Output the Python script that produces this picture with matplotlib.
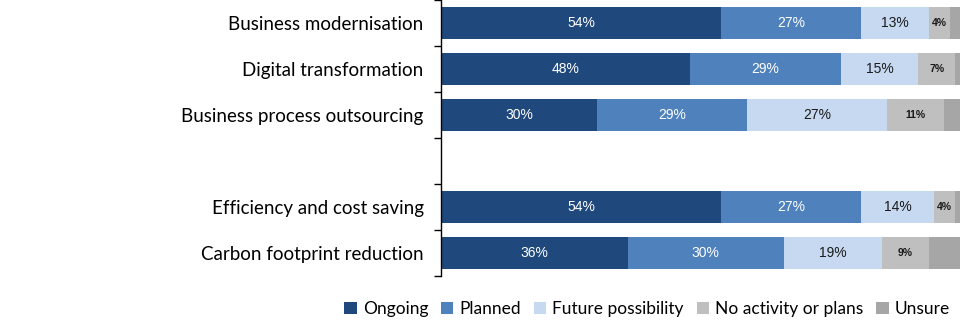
import numpy as np
import matplotlib
matplotlib.use("Agg")
import matplotlib.pyplot as plt

categories = ["Business modernisation", "Digital transformation", "Business process outsourcing",
              "", "Efficiency and cost saving", "Carbon footprint reduction"]
series = ["Ongoing", "Planned", "Future possibility", "No activity or plans", "Unsure"]
ongoing = [54, 48, 30, 0, 54, 36]
planned = [27, 29, 29, 0, 27, 30]
future = [13, 15, 27, 0, 14, 19]
no_activity = [4, 7, 11, 0, 4, 9]
unsure = [2, 1, 3, 0, 1, 6]

colors = ["#1f497d", "#4f81bd", "#c6d9f1", "#bfbfbf", "#a6a6a6"]
label_style = [("white", 10, "normal"), ("white", 10, "normal"), ("#1a1a1a", 10, "normal"),
               ("#1a1a1a", 7.5, "bold"), None]

fig = plt.figure(figsize=(9.6, 3.25), dpi=100)
ax = fig.add_axes([441 / 960, 49 / 325, 1 - 441 / 960, 276 / 325])

y = np.arange(len(categories))
left = np.zeros(len(categories))
handles = []
for vals, name, col, st in zip([ongoing, planned, future, no_activity, unsure], series, colors, label_style):
    vals = np.array(vals, dtype=float)
    b = ax.barh(y, vals, left=left, height=0.7, color=col, label=name)
    handles.append(b)
    if st is not None:
        for yi, (l, v) in enumerate(zip(left, vals)):
            if v > 0:
                ax.text(l + v / 2, yi, f"{int(v)}%", ha="center", va="center",
                        color=st[0], fontsize=st[1], fontweight=st[2], family="Liberation Sans")
    left += vals

ax.set_xlim(0, 100)
ax.set_ylim(len(categories) - 0.5, -0.5)
ax.set_yticks(y)
ax.set_yticklabels(categories, fontsize=13.5, family="Lato")
ax.tick_params(axis="y", which="major", length=0, pad=12.5)
ax.set_yticks(np.arange(-0.5, len(categories)), minor=True)
ax.tick_params(axis="y", which="minor", length=5, width=1, direction="out")
ax.set_xticks([])
for s in ["top", "right", "bottom"]:
    ax.spines[s].set_visible(False)
ax.spines["left"].set_linewidth(1)

fig.legend(handles, series, loc="center right", bbox_to_anchor=(962 / 960, 1 - 309 / 325), ncol=5,
           frameon=False, prop={"family": "Lato", "size": 12.5}, handlelength=0.7, handleheight=0.7,
           handletextpad=0.35, columnspacing=0.75, borderpad=0.2)

fig.savefig("out.png", dpi=100)
